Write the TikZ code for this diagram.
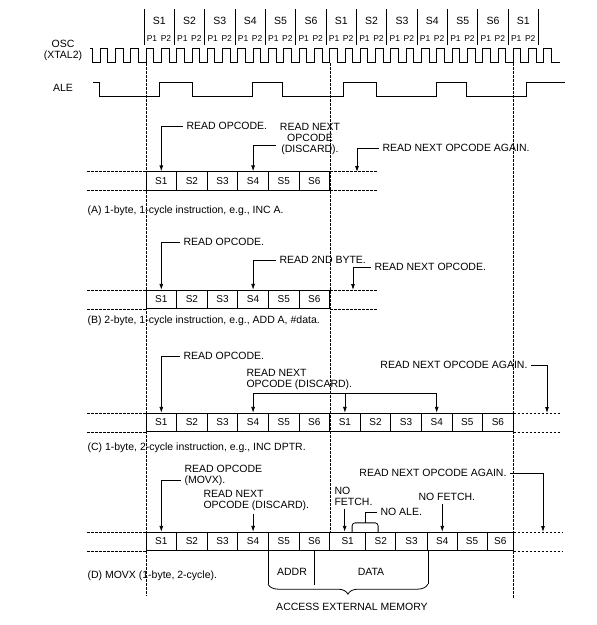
\documentclass[tikz,border=0pt]{standalone}
\usepackage{fontspec}
\setmainfont{Liberation Sans}
\usetikzlibrary{arrows.meta, positioning, decorations.pathreplacing}

\tikzset{
  sig/.style={line width=0.8pt},
  dsh/.style={line width=0.7pt, dash pattern=on 2.5pt off 1.5pt},
  arr/.style={line width=0.8pt, -{Latex[length=6pt,width=4pt]}},
  cell/.style={draw, line width=0.8pt, minimum height=18.5pt, inner sep=0pt, font=\fontsize{10}{11}\selectfont},
  small/.style={font=\fontsize{8.5}{9}\selectfont, inner sep=0pt},
}

\begin{document}
\begin{tikzpicture}[x=1pt, y=-1pt, every node/.style={font=\fontsize{10.5}{11}\selectfont}]
\useasboundingbox (0,0) rectangle (597,625);

% states and phases
\foreach \s [count=\k from 0] in {1,2,3,4,5,6,1,2,3,4,5,6,1} {
  \draw[sig] ({144+30.35*\k},9) -- ({144+30.35*\k},45);
  \node (st\k) at ({159.2+30.35*\k},21) {S\s};
  \node[small] (pa\k) at ({152+30.35*\k},39) {P1};
  \node[small] (pb\k) at ({166+30.35*\k},39) {P2};
}
\draw[sig] ({144+30.35*13},9) -- ({144+30.35*13},45);

% oscillator and ALE
\node[align=center] (osc) at (63,50.5) {OSC\\(XTAL2)};
\draw[sig] (90,48) -- (92.45,48) -- (92.45,62)
  \foreach \k in {-3,...,26} { -- ({146+15.3*\k},62) -- ({146+15.3*\k},48)
  -- ({153.65+15.3*\k},48) -- ({153.65+15.3*\k},62) } -- (560,62);
\node (ale) at (63,88) {ALE};
\draw[sig] (93,82) -- (99,82) -- (99,96) -- (159.5,96) -- (159.5,82) -- (192.5,82)
  -- (192.5,96) -- (252.5,96) -- (252.5,82) -- (282.5,82) -- (282.5,96) -- (343,96)
  -- (343,82) -- (376,82) -- (376,96) -- (436,96) -- (436,82) -- (466.5,82)
  -- (466.5,96) -- (526.5,96) -- (526.5,82) -- (565,82);

\draw[dsh] (146,63) -- (146,596);
\draw[dsh] (330,63) -- (330,532);
\draw[dsh] (513.5,63) -- (513.5,598);

% (A)
\foreach \i in {1,...,6}
  \node[cell, minimum width=30.6pt] (a\i) at ({130.7+30.6*\i},181) {S\i};
\draw[dsh] (a1.north west) -- ++(-60,0); \draw[dsh] (a1.south west) -- ++(-60,0);
\draw[dsh] (a6.north east) -- ++(47,0); \draw[dsh] (a6.south east) -- ++(47,0);
\node[anchor=west] (ropA) at (183,126) {READ OPCODE.};
\node[align=center] (nxA) at (310,139) {READ NEXT\\OPCODE\\(DISCARD).};
\node[anchor=west] (agA) at (379,148) {READ NEXT OPCODE AGAIN.};
\coordinate (aNx) at (357,172);
\draw[arr] (ropA.west) -| (a1.north);
\draw[arr] ([yshift=-6pt]nxA.west) -| (a4.north);
\draw[arr] (agA.west) -| (aNx);
\node[anchor=west] (capA) at (84,211) {(A) 1-byte, 1-cycle instruction, e.g., INC A.};

% (B)
\foreach \i in {1,...,6}
  \node[cell, minimum width=30.6pt] (b\i) at ({130.7+30.6*\i},299.5) {S\i};
\draw[dsh] (b1.north west) -- ++(-60,0); \draw[dsh] (b1.south west) -- ++(-60,0);
\draw[dsh] (b6.north east) -- ++(47,0); \draw[dsh] (b6.south east) -- ++(47,0);
\node[anchor=west] (ropB) at (180,242) {READ OPCODE.};
\node[anchor=west] (sbB) at (276,260) {READ 2ND BYTE.};
\node[anchor=west] (nxB) at (371,267) {READ NEXT OPCODE.};
\coordinate (bNx) at (353,290);
\draw[arr] (ropB.west) -| (b1.north);
\draw[arr] (sbB.west) -| (b4.north);
\draw[arr] (nxB.west) -| (bNx);
\node[anchor=west] (capB) at (84,321) {(B) 2-byte, 1-cycle instruction, e.g., ADD A, \#data.};

% (C)
\foreach \s [count=\i] in {1,2,3,4,5,6,1,2,3,4,5,6}
  \node[cell, minimum width=30.6pt] (c\i) at ({130.7+30.6*\i},422.5) {S\s};
\draw[dsh] (c1.north west) -- ++(-60,0); \draw[dsh] (c1.south west) -- ++(-60,0);
\draw[dsh] (c12.north east) -- ++(47,0); \draw[dsh] (c12.south east) -- ++(47,0);
\node[anchor=west] (ropC) at (180,356) {READ OPCODE.};
\node[anchor=west, align=left] (nxC) at (243,379) {READ NEXT\\OPCODE (DISCARD).};
\node[anchor=east] (agC) at (531,365) {READ NEXT OPCODE AGAIN.};
\coordinate (cNx) at (547,413);
\coordinate (brC) at (0,393);
\draw[arr] (ropC.west) -| (c1.north);
\draw[sig] (c4.north |- brC) -- (c10.north |- brC);
\draw[arr] (c4.north |- brC) -- (c4.north);
\draw[arr] (c7.north |- brC) -- (c7.north);
\draw[arr] (c10.north |- brC) -- (c10.north);
\draw[arr] (agC.east) -| (cNx);
\node[anchor=west] (capC) at (84,448) {(C) 1-byte, 2-cycle instruction, e.g., INC DPTR.};

% (D)
\foreach \i in {1,...,6}
  \node[cell, minimum width=30.6pt] (d\i) at ({130.7+30.6*\i},541.5) {S\i};
\foreach \l/\r/\s [count=\i from 7] in {329.6/365.7/1, 365.7/395.7/2, 395.7/427.5/3,
    427.5/457/4, 457/487/5, 487/513.5/6}
  \node[cell, minimum width={(\r-\l)*1pt}] (d\i) at ({(\l+\r)/2},541.5) {S\s};
\draw[dsh] (d1.north west) -- ++(-60,0); \draw[dsh] (d1.south west) -- ++(-60,0);
\draw[dsh] (d12.north east) -- ++(49,0); \draw[dsh] (d12.south east) -- ++(49,0);
\node[anchor=west, align=left] (ropD) at (181,475) {READ OPCODE\\(MOVX).};
\node[anchor=west, align=left] (nxD) at (200,500) {READ NEXT\\OPCODE (DISCARD).};
\node[anchor=east] (agD) at (510,473) {READ NEXT OPCODE AGAIN.};
\node[anchor=west, align=left] (nfD) at (331,496) {NO\\FETCH.};
\node[anchor=west] (nale) at (377,512) {NO ALE.};
\node[anchor=west] (nfE) at (415,497) {NO FETCH.};
\coordinate (dNx) at (543,532);
\coordinate (nfP) at ([xshift=-3pt]d7.north);
\draw[arr] ([yshift=-5.5pt]ropD.west) -| (d1.north);
\draw[arr] (d4.north |- nxD.south) -- (d4.north);
\draw[arr] (agD.east) -| (dNx);
\draw[arr] (nfP |- nfD.south) -- (nfP);
\draw[arr] (d10.north |- nfE.south) -- (d10.north);
\draw[sig, rounded corners=3pt] ([xshift=-14pt]d7.north east) -- ++(0,-9) -- ++(26,0) -- ++(0,9);
\draw[sig] ([xshift=-1pt, yshift=9pt]d7.north east) |- (nale.west);
\node[anchor=west] (capD) at (84,576) {(D) MOVX (1-byte, 2-cycle).};
\draw[sig] (d5.south west) -- ++(0,33);
\draw[sig] (d9.south east) -- ++(0,33);
\draw[sig] (d6.south) -- ++(0,34);
\draw[sig, decorate, decoration={brace, mirror, amplitude=10pt}]
  ([yshift=-33pt]d5.south west) -- ([yshift=-33pt]d9.south east);
\node (addr) at (292,572) {ADDR};
\node (data) at (371,572) {DATA};
\node (acc) at (352,607) {ACCESS EXTERNAL MEMORY};
\end{tikzpicture}
\end{document}
